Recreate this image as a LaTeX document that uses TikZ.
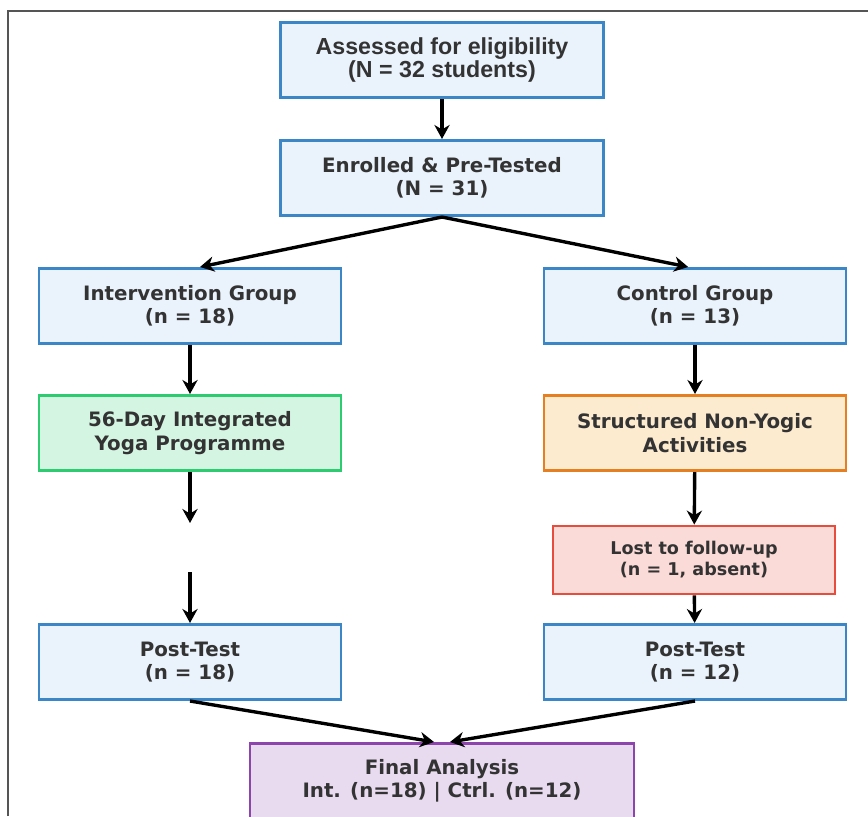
\documentclass[tikz,border=0pt]{standalone}
\usepackage{fontspec}
\setmainfont{DejaVu Sans}
\newfontfamily\titlefont{Liberation Sans}
\usetikzlibrary{arrows.meta,positioning}
\definecolor{txtgray}{HTML}{333333}
\definecolor{framegray}{HTML}{555555}
\definecolor{blueline}{HTML}{3A86C6}
\definecolor{bluefill}{HTML}{EAF2FB}
\definecolor{greenline}{HTML}{2ECC71}
\definecolor{greenfill}{HTML}{D5F5E3}
\definecolor{orangeline}{HTML}{E67E22}
\definecolor{orangefill}{HTML}{FDEBD0}
\definecolor{redline}{HTML}{E74C3C}
\definecolor{redfill}{HTML}{FADBD8}
\definecolor{purpleline}{HTML}{8E44AD}
\definecolor{purplefill}{HTML}{E8DAEF}
\tikzset{
	->,
	>={Stealth[length=3.5mm,width=3.8mm]},
	flowbox/.style={rectangle, draw=blueline, fill=bluefill, line width=2pt,
		minimum width=7.55cm, minimum height=1.88cm, align=center,
		text=txtgray, font=\bfseries\fontsize{14.1}{16.5}\selectfont},
	topbox/.style={flowbox, minimum width=8.08cm},
	yogabox/.style={flowbox, draw=greenline, fill=greenfill},
	activitybox/.style={flowbox, draw=orangeline, fill=orangefill},
	lostbox/.style={flowbox, draw=redline, fill=redfill, minimum width=7.05cm,
		minimum height=1.7cm, font=\bfseries\fontsize{12.5}{15}\selectfont},
	finalbox/.style={flowbox, draw=purpleline, fill=purplefill, minimum width=9.6cm},
	flow/.style={line width=2.4pt, black},
}

\begin{document}
\begin{tikzpicture}[x=0.025cm, y=-0.025cm]
        \useasboundingbox (0,0) rectangle (868,816);
        \fill[white] (0,0) rectangle (868,816);
        \draw[-, framegray, line width=1pt] (8,816) -- (8,11) -- (868,11);

        % top of the chart
        \node[topbox, font=\titlefont\bfseries\fontsize{16.5}{16.5}\selectfont] (assess) at (442,60)
            {Assessed for eligibility\\(N = 32 students)};
        \node[topbox] (enrol) at (442,178) {Enrolled \& Pre-Tested\\(N = 31)};

        % the two arms
        \node[flowbox] (interv) at (190,306) {Intervention Group\\(n = 18)};
        \node[flowbox] (control) at (695,306) {Control Group\\(n = 13)};
        \node[yogabox] (yoga) at (190,433) {56-Day Integrated\\Yoga Programme};
        \node[activitybox] (activity) at (695,433) {Structured Non-Yogic\\Activities};
        \node[lostbox] (lost) at (694,560) {Lost to follow-up\\(n = 1, absent)};
        \node[flowbox] (postint) at (190,662) {Post-Test\\(n = 18)};
        \node[flowbox] (postctrl) at (695,662) {Post-Test\\(n = 12)};
        \coordinate (gaptop) at (190,523);
        \coordinate (gapbot) at (190,572);

        % bottom
        \node[finalbox] (final) at (442,781) {Final Analysis\\Int. (n=18) | Ctrl. (n=12)};

        \draw[flow] (assess) -- (enrol);
        \draw[flow] (enrol.south) -- ([xshift=0.25cm]interv.north);
        \draw[flow] (enrol.south) -- ([xshift=-0.17cm]control.north);
        \draw[flow] (interv) -- (yoga);
        \draw[flow] (control) -- (activity);
        \draw[flow] (yoga) -- (gaptop);
        \draw[flow] (gapbot) -- (postint);
        \draw[flow] (activity) -- (lost);
        \draw[flow] (lost) -- (postctrl);
        \draw[flow] (postint.south) -- ([xshift=-0.2cm]final.north);
        \draw[flow] (postctrl.south) -- ([xshift=0.2cm]final.north);
    \end{tikzpicture}
\end{document}
